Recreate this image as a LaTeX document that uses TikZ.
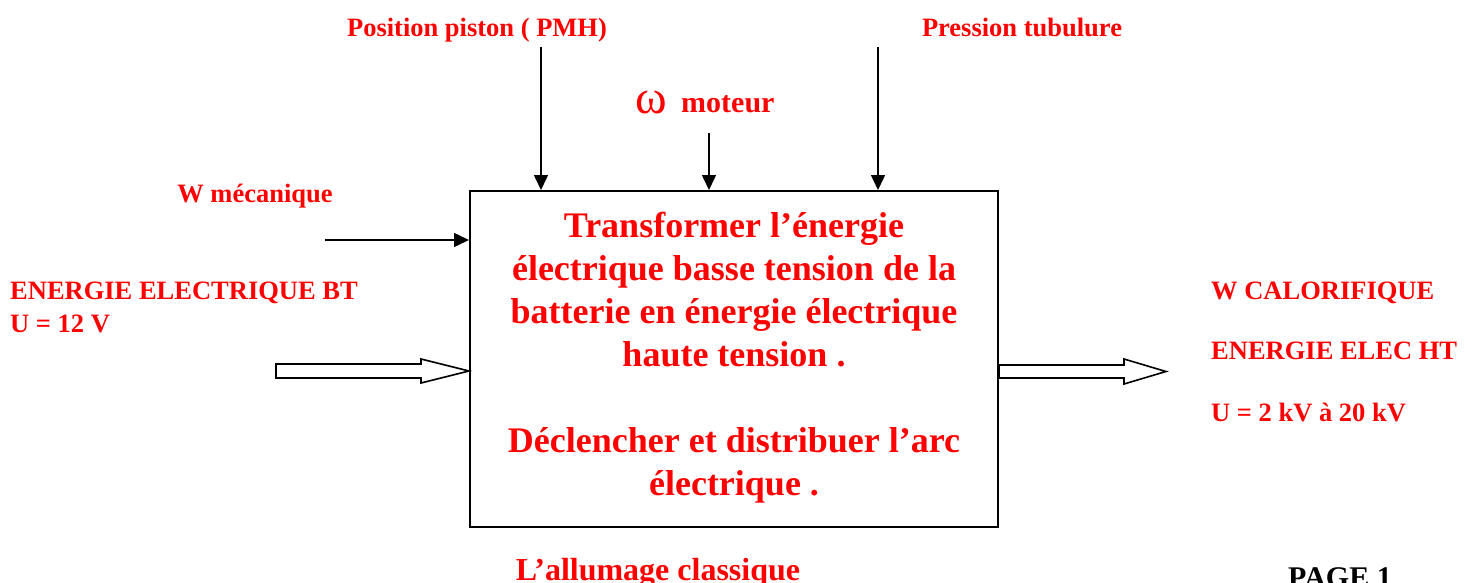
\documentclass[tikz,border=0pt]{standalone}
\usepackage{fontspec}
\setmainfont{Liberation Serif}
\usetikzlibrary{arrows.meta,calc}
\definecolor{lblred}{RGB}{255,0,0}
\begin{document}
\begin{tikzpicture}[x=1pt,y=-1pt,
  lbl/.style={text=lblred,font=\fontsize{26.5}{30}\selectfont\bfseries,inner sep=0pt},
  thinarrow/.style={line width=1.5pt,-{Triangle[length=15pt,width=14pt]}},
  hollow/.style={draw=black,line width=1.6pt,fill=white,line join=miter}]
\useasboundingbox (0,0) rectangle (1475,582);
% main box
\node[draw,line width=2pt,minimum width=528pt,minimum height=336pt,inner sep=0pt] (box) at (734,359) {};
\node[text=lblred,font=\fontsize{36}{43}\selectfont\bfseries,align=center,inner sep=0pt] (main) at (734,358)
  {Transformer l’énergie\\électrique basse tension de la\\batterie en énergie électrique\\haute tension .\\[43pt]Déclencher et distribuer l’arc\\électrique .};
% top inputs
\node[lbl,anchor=base] (pos) at (477,36) {Position piston ( PMH)};
\node[lbl,anchor=base] (pres) at (1022,36) {Pression tubulure};
\node[lbl,anchor=base west,font=\fontsize{30}{34}\selectfont\bfseries] (moteur) at (681,112) {moteur};
\node[anchor=base east,inner sep=0pt,text=lblred,font=\fontsize{48}{48}\selectfont] (omega) at (667,113) {ω};
\coordinate (posStart) at (541,47);
\coordinate (omStart) at (709,133);
\coordinate (presStart) at (878,47);
\draw[thinarrow] (posStart) -- (posStart |- box.north);
\draw[thinarrow] (omStart) -- (omStart |- box.north);
\draw[thinarrow] (presStart) -- (presStart |- box.north);
% W mecanique
\node[lbl,anchor=base] (wmec) at (255,202) {W mécanique};
\coordinate (wmecStart) at (325,240);
\draw[thinarrow] (wmecStart) -- (wmecStart -| box.west);
% left energy input
\node[lbl,anchor=base west] (elecBT) at (10,299) {ENERGIE ELECTRIQUE BT};
\node[lbl,anchor=base west] (u12) at (10,332) {U = 12 V};
\coordinate (inTip) at (box.west |- 0,371);
\draw[hollow] (inTip) -- ++(-48,-12) -- ++(0,5) -- ++(-145,0) -- ++(0,14) -- ++(145,0) -- ++(0,5) -- cycle;
% right outputs
\coordinate (outTail) at (box.east |- 0,371.5);
\coordinate (outTip) at (1166,371.5);
\draw[hollow] ($(outTail)+(0,-6.5)$) -- (1124,365) -- (1124,359) -- (outTip) -- (1124,384) -- (1124,378) -- ($(outTail)+(0,6.5)$) -- cycle;
\node[lbl,anchor=base west] (wcal) at (1211,299) {W CALORIFIQUE};
\node[lbl,anchor=base west] (elecHT) at (1211,359) {ENERGIE ELEC HT};
\node[lbl,anchor=base west] (uHT) at (1211,421) {U = 2 kV à 20 kV};
% bottom
\node[lbl,anchor=base,font=\fontsize{32}{36}\selectfont\bfseries] (title) at (658,580) {L’allumage classique};
\node[anchor=base west,inner sep=0pt,font=\fontsize{30}{34}\selectfont\bfseries] (page) at (1288,587) {PAGE 1};
\end{tikzpicture}
\end{document}
